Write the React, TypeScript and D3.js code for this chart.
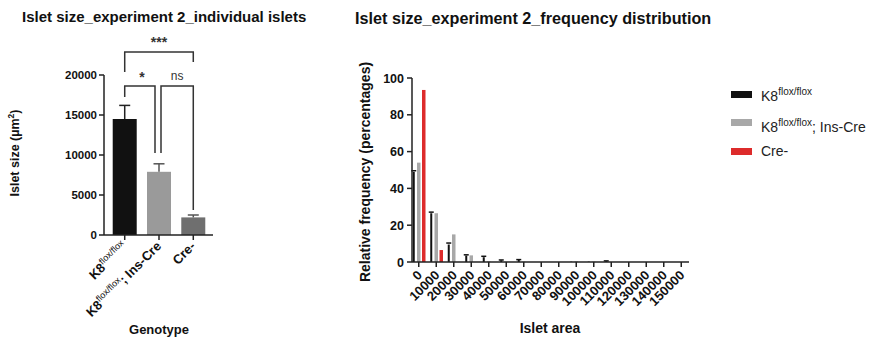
import React, { useEffect } from 'react';
import * as d3 from 'd3';

// Left panel: mean islet size per genotype
const genotypeKeys = ['k8', 'k8cre', 'cre'];
const genotypeBase = ['K8', 'K8', 'Cre-'];
const genotypeSup = ['flox/flox', 'flox/flox', ''];
const genotypeTail = ['', '; Ins-Cre', ''];
const meanSize = [14500, 7900, 2200];
const semSize = [1700, 1000, 300];
const genotypeColors = ['#111111', '#9a9a9a', '#6f6f6f'];
const sizeTicks = [0, 5000, 10000, 15000, 20000];

// Right panel: frequency distribution (relative frequency, %)
const binStarts = [0, 10000, 20000, 30000, 40000, 50000, 60000, 70000, 80000, 90000, 100000, 110000, 120000, 130000, 140000, 150000];
const freqK8 = [49, 26.5, 9.5, 3.5, 2.6, 0.9, 1.1, 0, 0, 0.2, 0.2, 0.5, 0, 0, 0, 0];
const errK8 = [0.6, 0.6, 0.8, 0.4, 0.5, 0.2, 0.2, 0, 0, 0, 0, 0.1, 0, 0, 0, 0];
const freqK8Cre = [54, 26.5, 15, 3.6, 0.3, 0, 0.2, 0, 0, 0.3, 0.2, 0, 0, 0, 0, 0];
const freqCreMinus = [93.5, 6.5, 0, 0, 0, 0, 0, 0, 0, 0, 0, 0, 0, 0, 0, 0];
const freqTicks = [0, 20, 40, 60, 80, 100];
const seriesKeys = ['k8', 'k8cre', 'cre'];
const seriesColors = ['#111111', '#a8a8a8', '#dd2b2b'];
const seriesWidths = [2, 3.5, 3.5];

const FONT = '"Liberation Sans", Arial, Helvetica, sans-serif';

const App: React.FC = () => {
  useEffect(() => {
    document.body.style.margin = '0';
  }, []);

  // left scales
  const xL = d3.scaleBand().domain(genotypeKeys).range([111, 207]).paddingInner(0.3).paddingOuter(0.05);
  const yL = d3.scaleLinear().domain([0, 20000]).range([235, 75]);
  const cx = (i: number) => (xL(genotypeKeys[i]) || 0) + xL.bandwidth() / 2;

  // right scales
  const xR = d3.scaleBand<number>().domain(binStarts).range([410, 690]);
  const xSub = d3.scaleBand().domain(seriesKeys).range([-7.5, 7.5]);
  const yR = d3.scaleLinear().domain([0, 100]).range([262, 78]);
  const seriesData = [freqK8, freqK8Cre, freqCreMinus];
  const binCenter = (b: number) => (xR(b) || 0) + xR.bandwidth() / 2;

  // significance brackets
  const b1 = cx(0), b2 = cx(1), b3 = cx(2);

  return (
    <svg width={877} height={342} style={{ display: 'block', fontFamily: FONT }}>
      <rect width={877} height={342} fill="#fff" />

      {/* ---------- left panel ---------- */}
      <text x={22} y={22} fontSize={15} fontWeight="bold" fill="#111">Islet size_experiment 2_individual islets</text>

      {genotypeKeys.map((k, i) => (
        <g key={k}>
          <rect x={xL(k)} y={yL(meanSize[i])} width={xL.bandwidth()} height={yL(0) - yL(meanSize[i])} fill={genotypeColors[i]} />
          <line x1={cx(i)} x2={cx(i)} y1={yL(meanSize[i])} y2={yL(meanSize[i] + semSize[i])} stroke={i === 0 ? '#222' : '#555'} strokeWidth={1.5} />
          <line x1={cx(i) - 5.5} x2={cx(i) + 5.5} y1={yL(meanSize[i] + semSize[i])} y2={yL(meanSize[i] + semSize[i])} stroke={i === 0 ? '#222' : '#555'} strokeWidth={1.5} />
        </g>
      ))}

      {/* axes */}
      <line x1={104} x2={104} y1={yL(20000)} y2={yL(0)} stroke="#222" strokeWidth={1.5} />
      <line x1={104} x2={213} y1={yL(0)} y2={yL(0)} stroke="#222" strokeWidth={1.5} />
      {sizeTicks.map(t => (
        <g key={t}>
          <line x1={99} x2={104} y1={yL(t)} y2={yL(t)} stroke="#222" strokeWidth={1.5} />
          <text x={97} y={yL(t) + 4} textAnchor="end" fontSize={11.5} fontWeight="bold" fill="#111">{t}</text>
        </g>
      ))}
      {genotypeKeys.map((k, i) => (
        <g key={k}>
          <line x1={cx(i)} x2={cx(i)} y1={yL(0)} y2={yL(0) + 5} stroke="#222" strokeWidth={1.5} />
          <text transform={`translate(${cx(i) + 3},${yL(0) + 12}) rotate(-45)`} textAnchor="end" fontSize={13} fontWeight="bold" fill="#111">
            {genotypeBase[i]}
            {genotypeSup[i] && <tspan dy={-5} fontSize={9} fontWeight="normal">{genotypeSup[i]}</tspan>}
            {genotypeTail[i] && <tspan dy={5}>{genotypeTail[i]}</tspan>}
          </text>
        </g>
      ))}
      <text transform={`translate(19,${yL(10000) - 2}) rotate(-90)`} textAnchor="middle" fontSize={12.5} fontWeight="bold" fill="#111">
        Islet size (µm<tspan dy={-5} fontSize={8.5}>2</tspan><tspan dy={5}>)</tspan>
      </text>
      <text x={159} y={334} textAnchor="middle" fontSize={13} fontWeight="bold" fill="#111">Genotype</text>

      {/* brackets */}
      <g fill="none" stroke="#333" strokeWidth={1.5}>
        <path d={`M${b1},72 V52 H${b3} V62`} />
        <path d={`M${b1},97 V86 H${b2 - 4} V153`} />
        <path d={`M${b2 + 2},153 V86 H${b3} V210`} />
      </g>
      <text x={(b1 + b3) / 2} y={47} textAnchor="middle" fontSize={14} fontWeight="bold" fill="#333">***</text>
      <text x={(b1 + b2) / 2} y={82} textAnchor="middle" fontSize={14} fontWeight="bold" fill="#333">*</text>
      <text x={(b2 + b3) / 2 + 1} y={80} textAnchor="middle" fontSize={12} fill="#333">ns</text>

      {/* ---------- right panel ---------- */}
      <text x={355} y={24} fontSize={16.2} fontWeight="bold" fill="#111">Islet size_experiment 2_frequency distribution</text>

      {binStarts.map((b, bi) => (
        <g key={b}>
          {seriesKeys.map((s, si) => {
            const v = seriesData[si][bi];
            if (v <= 0) return null;
            const c = binCenter(b) + (xSub(s) || 0) + xSub.bandwidth() / 2;
            const w = seriesWidths[si];
            return (
              <g key={s}>
                <rect x={c - w / 2} y={yR(v)} width={w} height={yR(0) - yR(v)} fill={seriesColors[si]} />
                {si === 0 && errK8[bi] > 0 && (
                  <line x1={c - 2.5} x2={c + 2.5} y1={yR(v + errK8[bi])} y2={yR(v + errK8[bi])} stroke="#111" strokeWidth={1.5} />
                )}
              </g>
            );
          })}
        </g>
      ))}

      <line x1={412} x2={412} y1={yR(100)} y2={yR(0)} stroke="#222" strokeWidth={1.5} />
      <line x1={412} x2={689} y1={yR(0)} y2={yR(0)} stroke="#222" strokeWidth={1.5} />
      {freqTicks.map(t => (
        <g key={t}>
          <line x1={407} x2={412} y1={yR(t)} y2={yR(t)} stroke="#222" strokeWidth={1.5} />
          <text x={404} y={yR(t) + 4.5} textAnchor="end" fontSize={12.5} fontWeight="bold" fill="#111">{t}</text>
        </g>
      ))}
      {binStarts.map(b => (
        <g key={b}>
          <line x1={binCenter(b)} x2={binCenter(b)} y1={yR(0)} y2={yR(0) + 5} stroke="#222" strokeWidth={1.5} />
          <text transform={`translate(${binCenter(b) + 4},${yR(0) + 14}) rotate(-45)`} textAnchor="end" fontSize={13} fontWeight="bold" fill="#111">{b}</text>
        </g>
      ))}
      <text transform={`translate(370,172) rotate(-90)`} textAnchor="middle" fontSize={14} fontWeight="bold" fill="#111">Relative frequency (percentages)</text>
      <text x={550} y={333} textAnchor="middle" fontSize={14} fontWeight="bold" fill="#111">Islet area</text>

      {/* legend */}
      <rect x={731} y={91} width={21} height={7} fill={seriesColors[0]} />
      <text x={761} y={101} fontSize={14} fill="#222">K8<tspan dy={-6} fontSize={10}>flox/flox</tspan></text>
      <rect x={731} y={119} width={21} height={7} fill={seriesColors[1]} />
      <text x={761} y={132} fontSize={14} fill="#222">K8<tspan dy={-6} fontSize={10}>flox/flox</tspan><tspan dy={6}>; Ins-Cre</tspan></text>
      <rect x={731} y={148} width={21} height={7} fill={seriesColors[2]} />
      <text x={761} y={156} fontSize={14} fill="#222">Cre-</text>
    </svg>
  );
};

export default App;
